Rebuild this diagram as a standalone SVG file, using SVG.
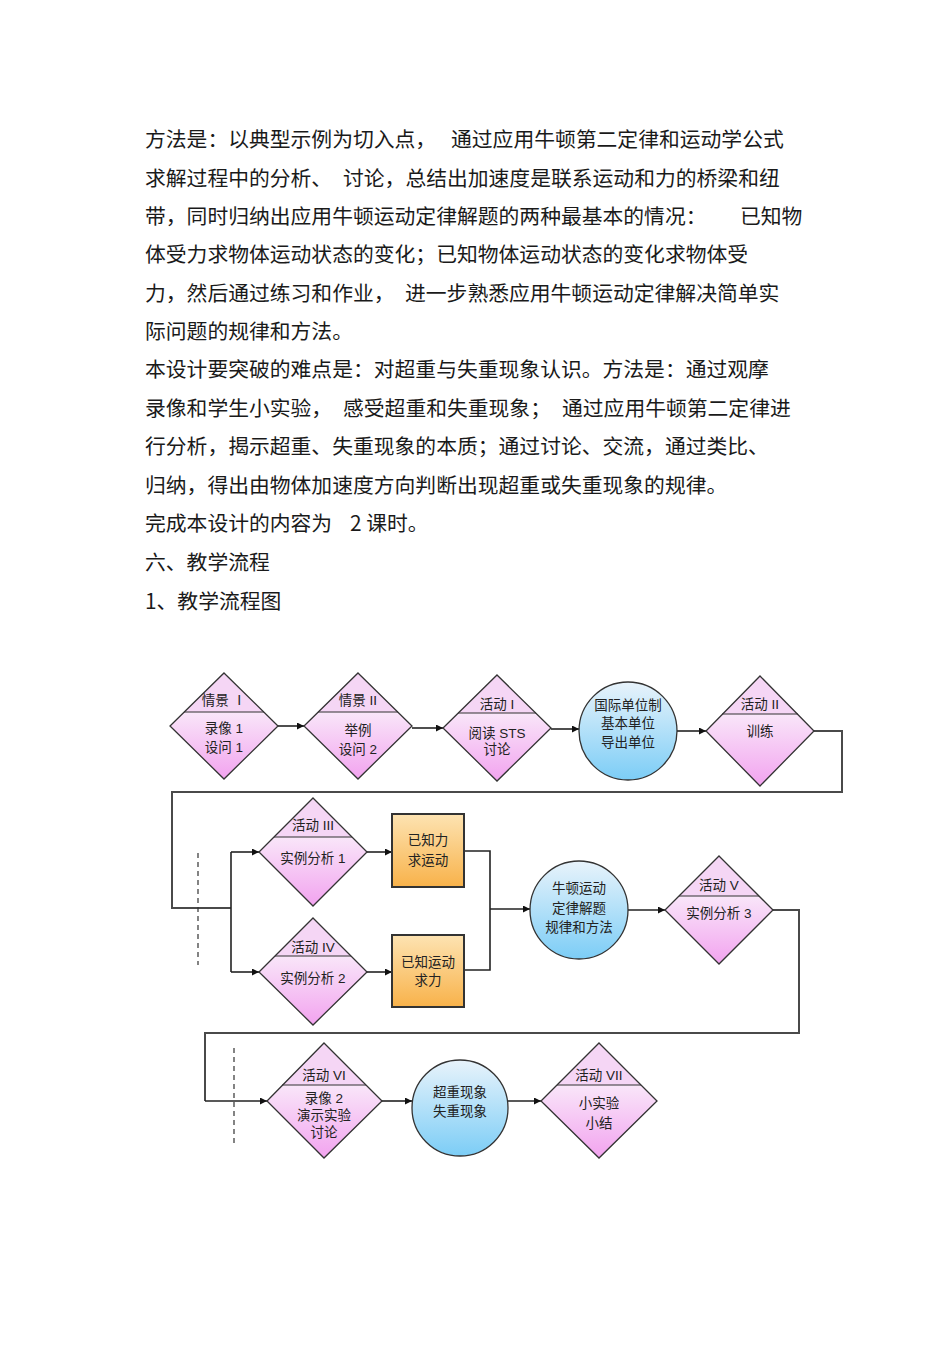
<svg xmlns="http://www.w3.org/2000/svg" width="950" height="1345" viewBox="0 0 950 1345">
<defs>
<style>
.p{font-family:"Noto Sans CJK SC","Liberation Sans",sans-serif;font-size:20.8px;fill:#1a1a1a}
.n{font-family:"Liberation Sans","Noto Sans CJK SC",sans-serif;font-size:13.5px;fill:#222;text-anchor:middle}
.up{fill:#f5d6f5;stroke:none}
.lo{fill:url(#gPink);stroke:none}
.dout{fill:none;stroke:#333;stroke-width:1.3}
.div{stroke:#333;stroke-width:1.2}
.circ{fill:url(#gBlue);stroke:#333;stroke-width:1.3}
.box{fill:url(#gOrange);stroke:#333;stroke-width:2}
.c{fill:none;stroke:#222;stroke-width:1.6}
.lp{fill:none;stroke:#4a4a4a;stroke-width:2}
.dash{stroke:#333;stroke-width:1.2;stroke-dasharray:5,4}
</style>
<linearGradient id="gPink" x1="0" y1="0" x2="0" y2="1">
<stop offset="0" stop-color="#f9e6f9"/>
<stop offset="1" stop-color="#f2a3ef"/>
</linearGradient>
<linearGradient id="gBlue" x1="0" y1="0" x2="0" y2="1">
<stop offset="0" stop-color="#e8f3fb"/>
<stop offset="1" stop-color="#7ccdf6"/>
</linearGradient>
<linearGradient id="gOrange" x1="0" y1="0" x2="0" y2="1">
<stop offset="0" stop-color="#fde3b2"/>
<stop offset="1" stop-color="#f8b24a"/>
</linearGradient>
<marker id="ar" viewBox="0 0 10 10" refX="10" refY="5" markerWidth="8" markerHeight="7" markerUnits="userSpaceOnUse" orient="auto">
<path d="M0,0 L10,5 L0,10 z" fill="#111"/>
</marker>
</defs>
<rect width="950" height="1345" fill="#ffffff"/>
<g id="paragraph">
<text class="p" x="145" y="147">方法是：以典型示例为切入点，</text>
<text class="p" x="451" y="147">通过应用牛顿第二定律和运动学公式</text>
<text class="p" x="145" y="186">求解过程中的分析、</text>
<text class="p" x="343" y="186">讨论，总结出加速度是联系运动和力的桥梁和纽</text>
<text class="p" x="145" y="224">带，同时归纳出应用牛顿运动定律解题的两种最基本的情况：</text>
<text class="p" x="740" y="224">已知物</text>
<text class="p" x="145" y="262">体受力求物体运动状态的变化；已知物体运动状态的变化求物体受</text>
<text class="p" x="145" y="301">力，然后通过练习和作业，</text>
<text class="p" x="405" y="301">进一步熟悉应用牛顿运动定律解决简单实</text>
<text class="p" x="145" y="339">际问题的规律和方法。</text>
<text class="p" x="145" y="377">本设计要突破的难点是：对超重与失重现象认识。方法是：通过观摩</text>
<text class="p" x="145" y="416">录像和学生小实验，</text>
<text class="p" x="343" y="416">感受超重和失重现象；</text>
<text class="p" x="562" y="416">通过应用牛顿第二定律进</text>
<text class="p" x="145" y="454">行分析，揭示超重、失重现象的本质；通过讨论、交流，通过类比、</text>
<text class="p" x="145" y="493">归纳，得出由物体加速度方向判断出现超重或失重现象的规律。</text>
<text class="p" x="145" y="531">完成本设计的内容为</text>
<text class="p" x="350" y="531">2 课时。</text>
<text class="p" x="145" y="570">六、教学流程</text>
<text class="p" x="145" y="609">1、教学流程图</text>
</g>
<g id="connectors">
<line class="c" x1="278" y1="726" x2="304" y2="726" marker-end="url(#ar)"/>
<line class="c" x1="412" y1="728" x2="443" y2="728" marker-end="url(#ar)"/>
<line class="c" x1="551" y1="729" x2="579" y2="729" marker-end="url(#ar)"/>
<line class="c" x1="677" y1="731" x2="706" y2="731" marker-end="url(#ar)"/>
<polyline class="lp" points="814,731 842,731 842,792 172,792 172,908 231,908"/>
<line class="c" x1="231" y1="852" x2="231" y2="972"/>
<line class="c" x1="231" y1="852" x2="259" y2="852" marker-end="url(#ar)"/>
<line class="c" x1="231" y1="972" x2="259" y2="972" marker-end="url(#ar)"/>
<line class="c" x1="367" y1="852" x2="392" y2="852" marker-end="url(#ar)"/>
<line class="c" x1="367" y1="972" x2="392" y2="972" marker-end="url(#ar)"/>
<polyline class="c" points="464,851 490,851 490,970 464,970"/>
<line class="c" x1="490" y1="909" x2="530" y2="909" marker-end="url(#ar)"/>
<line class="c" x1="628" y1="910" x2="665" y2="910" marker-end="url(#ar)"/>
<polyline class="lp" points="773,910 799,910 799,1033 205,1033 205,1101"/>
<line class="c" x1="205" y1="1101" x2="267" y2="1101" marker-end="url(#ar)"/>
<line class="c" x1="382" y1="1101" x2="412" y2="1101" marker-end="url(#ar)"/>
<line class="c" x1="508" y1="1101" x2="541" y2="1101" marker-end="url(#ar)"/>
<line class="dash" x1="198" y1="853" x2="198" y2="965"/>
<line class="dash" x1="234" y1="1048" x2="234" y2="1147"/>
</g>
<g id="n-qingjing1">
<polygon class="up" points="224,673 184,712 264,712"/>
<polygon class="lo" points="184,712 264,712 278,726 224,779 170,726"/>
<polygon class="dout" points="224,673 278,726 224,779 170,726"/>
<line class="div" x1="184" y1="712" x2="264" y2="712"/>
<text class="n" x="224" y="705">情景 Ⅰ</text>
<text class="n" x="224" y="733">录像  1</text>
<text class="n" x="224" y="752">设问  1</text>
</g>
<g id="n-qingjing2">
<polygon class="up" points="358,673 318,712 398,712"/>
<polygon class="lo" points="318,712 398,712 412,726 358,779 304,726"/>
<polygon class="dout" points="358,673 412,726 358,779 304,726"/>
<line class="div" x1="318" y1="712" x2="398" y2="712"/>
<text class="n" x="358" y="705">情景  II</text>
<text class="n" x="358" y="735">举例</text>
<text class="n" x="358" y="754">设问  2</text>
</g>
<g id="n-huodong1">
<polygon class="up" points="497,675 458,713 536,713"/>
<polygon class="lo" points="458,713 536,713 551,728 497,781 443,728"/>
<polygon class="dout" points="497,675 551,728 497,781 443,728"/>
<line class="div" x1="458" y1="713" x2="536" y2="713"/>
<text class="n" x="497" y="709">活动  I</text>
<text class="n" x="497" y="738">阅读  STS</text>
<text class="n" x="497" y="754">讨论</text>
</g>
<g id="n-guoji">
<circle class="circ" cx="628" cy="731" r="49"/>
<text class="n" x="628" y="710">国际单位制</text>
<text class="n" x="628" y="728">基本单位</text>
<text class="n" x="628" y="747">导出单位</text>
</g>
<g id="n-huodong2">
<polygon class="up" points="760,676 722,714 798,714"/>
<polygon class="lo" points="722,714 798,714 814,731 760,786 706,731"/>
<polygon class="dout" points="760,676 814,731 760,786 706,731"/>
<line class="div" x1="722" y1="714" x2="798" y2="714"/>
<text class="n" x="760" y="709">活动  II</text>
<text class="n" x="760" y="736">训练</text>
</g>
<g id="n-huodong3">
<polygon class="up" points="313,798 274,837 352,837"/>
<polygon class="lo" points="274,837 352,837 367,852 313,906 259,852"/>
<polygon class="dout" points="313,798 367,852 313,906 259,852"/>
<line class="div" x1="274" y1="837" x2="352" y2="837"/>
<text class="n" x="313" y="830">活动  III</text>
<text class="n" x="313" y="863">实例分析  1</text>
</g>
<g id="n-huodong4">
<polygon class="up" points="313,918 275,956 351,956"/>
<polygon class="lo" points="275,956 351,956 367,972 313,1025 259,972"/>
<polygon class="dout" points="313,918 367,972 313,1025 259,972"/>
<line class="div" x1="275" y1="956" x2="351" y2="956"/>
<text class="n" x="313" y="952">活动  IV</text>
<text class="n" x="313" y="983">实例分析  2</text>
</g>
<g id="n-box1">
<rect class="box" x="392" y="814" width="72" height="73"/>
<text class="n" x="428" y="845">已知力</text>
<text class="n" x="428" y="865">求运动</text>
</g>
<g id="n-box2">
<rect class="box" x="392" y="935" width="72" height="72"/>
<text class="n" x="428" y="967">已知运动</text>
<text class="n" x="428" y="985">求力</text>
</g>
<g id="n-niudun">
<circle class="circ" cx="579" cy="910" r="49"/>
<text class="n" x="579" y="893">牛顿运动</text>
<text class="n" x="579" y="913">定律解题</text>
<text class="n" x="579" y="932">规律和方法</text>
</g>
<g id="n-huodong5">
<polygon class="up" points="719,856 679,896 759,896"/>
<polygon class="lo" points="679,896 759,896 773,910 719,964 665,910"/>
<polygon class="dout" points="719,856 773,910 719,964 665,910"/>
<line class="div" x1="679" y1="896" x2="759" y2="896"/>
<text class="n" x="719" y="890">活动  V</text>
<text class="n" x="719" y="918">实例分析  3</text>
</g>
<g id="n-huodong6">
<polygon class="up" points="324,1043 282,1085 366,1085"/>
<polygon class="lo" points="282,1085 366,1085 382,1101 324,1158 267,1101"/>
<polygon class="dout" points="324,1043 382,1101 324,1158 267,1101"/>
<line class="div" x1="282" y1="1085" x2="366" y2="1085"/>
<text class="n" x="324" y="1080">活动  VI</text>
<text class="n" x="324" y="1103">录像  2</text>
<text class="n" x="324" y="1120">演示实验</text>
<text class="n" x="324" y="1137">讨论</text>
</g>
<g id="n-chaozhong">
<circle class="circ" cx="460" cy="1108" r="48"/>
<text class="n" x="460" y="1097">超重现象</text>
<text class="n" x="460" y="1116">失重现象</text>
</g>
<g id="n-huodong7">
<polygon class="up" points="599,1043 557,1085 641,1085"/>
<polygon class="lo" points="557,1085 641,1085 657,1101 599,1158 541,1101"/>
<polygon class="dout" points="599,1043 657,1101 599,1158 541,1101"/>
<line class="div" x1="557" y1="1085" x2="641" y2="1085"/>
<text class="n" x="599" y="1080">活动  VII</text>
<text class="n" x="599" y="1108">小实验</text>
<text class="n" x="599" y="1128">小结</text>
</g>
</svg>
